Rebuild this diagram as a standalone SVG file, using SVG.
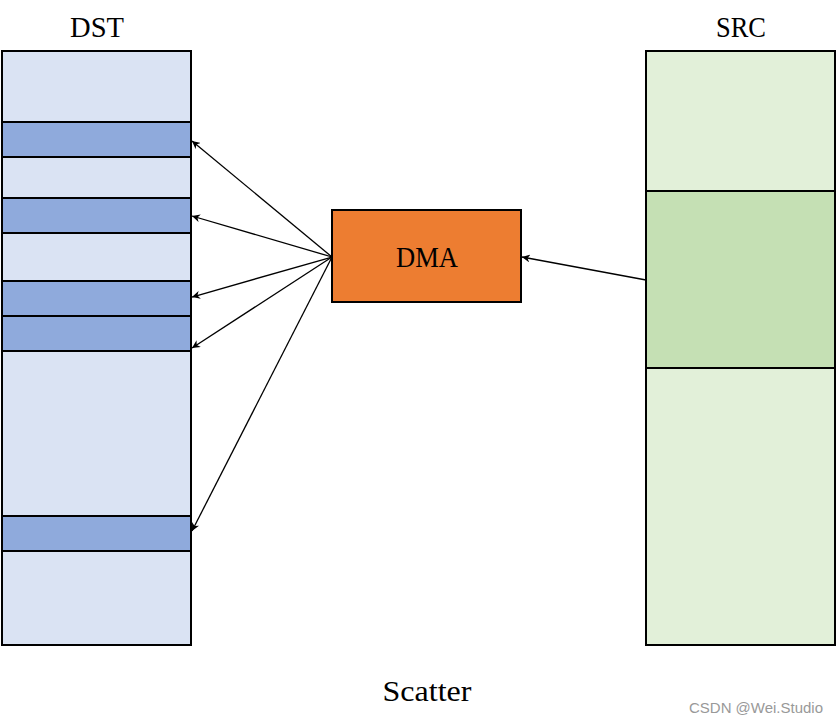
<svg xmlns="http://www.w3.org/2000/svg" width="838" height="723" viewBox="0 0 838 723">
<style>
.box{stroke:#000;stroke-width:2}
.dst{fill:#DAE3F3}
.band{fill:#8FAADC}
.src{fill:#E2F0D9}
.gband{fill:#C5E0B4}
.dma{fill:#ED7D31}
.lbl{font-family:"Liberation Serif","DejaVu Serif",serif;font-size:29px;fill:#000;text-anchor:middle}
.edge{stroke:#000;stroke-width:1.3;fill:none;marker-end:url(#ah)}
.wm{font-family:"Liberation Sans",sans-serif;font-size:14px;fill:#999}
</style>
<defs>
<marker id="ah" viewBox="0 0 10 10" refX="10" refY="5" markerWidth="8" markerHeight="8" orient="auto" markerUnits="userSpaceOnUse">
<path d="M0,0 L10,5 L0,10 L3,5 z" fill="#000"/>
</marker>
</defs>
<rect width="838" height="723" fill="#fff"/>
<g id="dst">
<rect class="box dst" x="2" y="51" width="189" height="594"/>
<rect class="box band" x="2" y="122" width="189" height="35"/>
<rect class="box band" x="2" y="198" width="189" height="35"/>
<rect class="box band" x="2" y="281" width="189" height="35"/>
<rect class="box band" x="2" y="316" width="189" height="35"/>
<rect class="box band" x="2" y="516" width="189" height="35"/>
<text class="lbl" x="97" y="37" textLength="54" lengthAdjust="spacingAndGlyphs">DST</text>
</g>
<g id="src">
<rect class="box src" x="646" y="51" width="189" height="594"/>
<rect class="box gband" x="646" y="191" width="189" height="177"/>
<text class="lbl" x="741" y="37" textLength="50" lengthAdjust="spacingAndGlyphs">SRC</text>
</g>
<g id="dma">
<rect class="box dma" x="332" y="210" width="189" height="92"/>
<text class="lbl" x="427" y="267" textLength="62" lengthAdjust="spacingAndGlyphs">DMA</text>
</g>
<g id="connectors">
<line class="edge" x1="332" y1="257" x2="192" y2="141"/>
<line class="edge" x1="332" y1="257" x2="192" y2="216"/>
<line class="edge" x1="332" y1="257" x2="192" y2="297"/>
<line class="edge" x1="332" y1="257" x2="192" y2="348"/>
<line class="edge" x1="332" y1="257" x2="192" y2="531"/>
<line class="edge" x1="646" y1="280" x2="522" y2="257"/>
</g>
<text class="lbl" x="427" y="701" textLength="89" lengthAdjust="spacingAndGlyphs">Scatter</text>
<text class="wm" x="689" y="713" textLength="134" lengthAdjust="spacingAndGlyphs">CSDN @Wei.Studio</text>
</svg>
